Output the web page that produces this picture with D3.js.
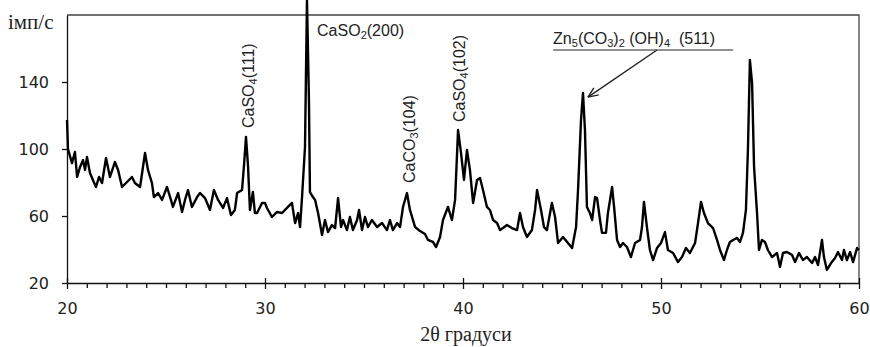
<!DOCTYPE html>
<html>
<head>
<meta charset="utf-8">
<script src="https://cdn.jsdelivr.net/npm/d3@7"></script>
<style>
  body { margin: 0; background: #fff; }
  svg { display: block; }
  .axis text { font-family: "DejaVu Sans", Verdana, sans-serif; font-size: 16px; fill: #222; }
  .axis path, .axis line { stroke: #111; stroke-width: 1.3px; }
  .ann { font-family: "Liberation Sans", Arial, sans-serif; font-size: 16px; fill: #222; }
</style>
</head>
<body>
<svg width="870" height="347"></svg>
<script>
// 2θ (degrees) and intensity (imp/s)
var twoTheta = [20.00, 20.05, 20.25, 20.40, 20.51, 20.66, 20.81, 20.91, 21.01, 21.16, 21.31, 21.46, 21.62, 21.77, 21.97,
  22.17, 22.42, 22.58, 22.78, 23.03, 23.28, 23.43, 23.69, 23.94, 24.09, 24.29, 24.39, 24.60, 24.80, 25.05,
  25.25, 25.35, 25.61, 25.81, 25.96, 26.11, 26.31, 26.57, 26.72, 26.97, 27.22, 27.42, 27.63, 27.88, 28.08,
  28.28, 28.48, 28.59, 28.84, 28.94, 29.04, 29.14, 29.24, 29.39, 29.49, 29.60, 29.85, 30.00, 30.10, 30.35,
  30.61, 30.86, 31.16, 31.36, 31.52, 31.67, 31.77, 31.87, 32.02, 32.12, 32.22, 32.27, 32.42, 32.53, 32.68,
  32.88, 33.03, 33.18, 33.38, 33.54, 33.69, 33.84, 33.94, 34.14, 34.29, 34.44, 34.65, 34.75, 34.90, 35.05,
  35.20, 35.40, 35.66, 35.91, 36.16, 36.31, 36.46, 36.67, 36.82, 36.97, 37.17, 37.32, 37.58, 37.83, 38.08,
  38.23, 38.48, 38.64, 38.84, 38.99, 39.24, 39.44, 39.60, 39.75, 39.90, 40.05, 40.20, 40.35, 40.51, 40.71,
  40.86, 41.01, 41.21, 41.36, 41.52, 41.72, 41.87, 42.02, 42.22, 42.47, 42.73, 42.88, 43.03, 43.23, 43.48,
  43.64, 43.74, 43.94, 44.09, 44.24, 44.49, 44.65, 44.80, 45.05, 45.30, 45.51, 45.71, 45.81, 45.96, 46.06,
  46.16, 46.26, 46.41, 46.52, 46.67, 46.77, 46.92, 47.02, 47.22, 47.32, 47.53, 47.63, 47.78, 47.93, 48.08,
  48.28, 48.48, 48.69, 48.94, 49.04, 49.14, 49.29, 49.44, 49.60, 49.80, 50.00, 50.20, 50.35, 50.61, 50.86,
  51.06, 51.26, 51.46, 51.72, 51.87, 52.02, 52.17, 52.37, 52.63, 52.83, 52.98, 53.18, 53.33, 53.48, 53.64,
  53.84, 53.99, 54.14, 54.29, 54.39, 54.49, 54.60, 54.70, 54.85, 54.95, 55.10, 55.25, 55.40, 55.61, 55.86,
  56.01, 56.16, 56.36, 56.62, 56.77, 56.97, 57.17, 57.37, 57.63, 57.78, 57.93, 58.13, 58.23, 58.38, 58.59,
  58.79, 58.94, 59.14, 59.24, 59.39, 59.55, 59.70, 59.90, 60.00];

var intensity = [117.3, 100.0, 91.6, 98.2, 83.3, 89.3, 93.4, 87.5, 95.2, 85.7, 81.5, 77.3, 83.3, 79.7, 94.6,
  83.3, 92.2, 87.5, 77.3, 80.3, 83.3, 79.7, 77.3, 97.6, 87.5, 79.7, 71.3, 73.7, 69.6, 77.3,
  69.6, 65.4, 73.7, 62.4, 69.6, 75.5, 65.4, 71.3, 73.7, 70.7, 63.6, 75.5, 69.6, 64.8, 70.7,
  60.6, 63.6, 73.7, 75.5, 90.4, 107.2, 90.4, 63.6, 74.3, 61.8, 61.8, 67.8, 67.8, 64.8, 59.4,
  62.4, 61.8, 65.4, 67.8, 55.8, 61.8, 53.4, 71.3, 101.2, 189.0, 129.0, 74.3, 71.3, 69.6, 61.8,
  48.7, 57.6, 50.4, 54.6, 52.8, 70.7, 53.4, 57.6, 51.6, 59.4, 51.6, 57.6, 63.6, 51.6, 59.4,
  53.4, 57.6, 53.4, 55.8, 51.6, 57.6, 51.6, 55.8, 53.4, 65.4, 73.7, 63.6, 53.4, 51.0, 49.3,
  45.7, 44.5, 41.5, 47.5, 57.6, 65.4, 57.6, 69.6, 111.3, 97.6, 81.5, 99.4, 87.5, 67.8, 81.5,
  82.7, 75.5, 65.4, 63.6, 57.6, 55.8, 51.6, 52.8, 54.6, 52.8, 51.6, 61.8, 53.4, 47.5, 51.6,
  63.6, 75.5, 63.6, 53.4, 51.6, 67.8, 59.4, 43.9, 47.5, 43.9, 40.9, 53.4, 75.5, 117.3, 133.4,
  111.3, 65.4, 61.8, 57.6, 71.3, 70.7, 57.6, 49.9, 49.9, 61.8, 77.3, 65.4, 45.7, 41.5, 43.9,
  41.5, 35.5, 43.9, 45.7, 53.4, 68.4, 53.4, 39.7, 33.7, 40.9, 43.9, 50.4, 39.7, 37.9, 32.5,
  35.5, 40.9, 37.9, 43.9, 55.8, 68.4, 61.8, 55.8, 52.8, 45.7, 39.7, 33.7, 39.7, 44.5, 45.7,
  46.9, 44.5, 49.9, 63.6, 99.4, 153.1, 139.4, 89.3, 61.8, 39.7, 45.7, 44.5, 39.7, 35.5, 37.9,
  29.6, 37.9, 38.5, 36.7, 32.5, 37.9, 33.7, 35.5, 31.9, 35.5, 30.7, 45.7, 35.5, 27.8, 31.9,
  34.9, 38.5, 33.7, 39.7, 33.7, 38.5, 32.5, 40.9, 39.7];

var xTicks = [20, 30, 40, 50, 60];
var yTicks = [20, 60, 100, 140];

// peak labels: [text, isSubscript], anchored in data units
var peakLabels = [
  { parts: [["CaSO", 0], ["4", 1], ["(111)", 0]], x: 29.19, y: 112.5, rotate: true },
  { parts: [["CaSO", 0], ["2", 1], ["(200)", 0]], x: 32.63, y: 167.5, rotate: false },
  { parts: [["CaCO", 0], ["3", 1], ["(104)", 0]], x: 37.32, y: 79.7, rotate: true },
  { parts: [["CaSO", 0], ["4", 1], ["(102)", 0]], x: 39.80, y: 116.1, rotate: true },
  { parts: [["Zn", 0], ["5", 1], ["(CO", 0], ["3", 1], [")", 0], ["2", 1], [" (OH)", 0], ["4", 1], ["\u00a0\u00a0(511)", 0]], x: 44.55, y: 162.7, rotate: false }
];

var svg = d3.select("svg"),
    margin = {top: 15, right: 11, bottom: 64, left: 67},
    width = +svg.attr("width") - margin.left - margin.right,
    height = +svg.attr("height") - margin.top - margin.bottom;

var x = d3.scaleLinear().domain([20, 60]).range([0, width]),
    y = d3.scaleLinear().domain([20, 180]).range([height, 0]);

var g = svg.append("g")
    .attr("transform", "translate(" + margin.left + "," + margin.top + ")");

// frame top + right
g.append("path")
    .attr("d", "M0,0H" + width + "V" + height)
    .attr("fill", "none")
    .attr("stroke", "#444")
    .attr("stroke-width", 1.3);

// minor x ticks
g.append("g")
    .attr("class", "axis")
    .attr("transform", "translate(0," + height + ")")
    .call(d3.axisBottom(x).tickValues(d3.range(21, 60).filter(function(d) { return d % 10; }))
      .tickSize(5).tickFormat(""))
    .select(".domain").remove();

var xa = g.append("g")
    .attr("class", "axis")
    .attr("transform", "translate(0," + height + ")")
    .call(d3.axisBottom(x).tickValues(xTicks).tickSize(6).tickPadding(14).tickSizeOuter(0));
xa.selectAll(".tick line").attr("y1", -5);

g.append("g")
    .attr("class", "axis")
    .call(d3.axisLeft(y).tickValues(yTicks).tickSize(5).tickPadding(13).tickSizeOuter(0));

// diffractogram
var line = d3.line()
    .x(function(d, i) { return x(twoTheta[i]); })
    .y(function(d) { return y(d); });

g.append("path")
    .datum(intensity)
    .attr("fill", "none")
    .attr("stroke", "#000")
    .attr("stroke-width", 2.4)
    .attr("stroke-linejoin", "round")
    .attr("d", line);

// axis titles
svg.append("text")
    .attr("x", 8).attr("y", 29)
    .attr("font-family", "'Liberation Serif', 'Times New Roman', serif")
    .attr("font-size", 21)
    .attr("fill", "#222")
    .text("імп/с");

svg.append("text")
    .attr("x", margin.left + width / 2 + 3).attr("y", 341)
    .attr("text-anchor", "middle")
    .attr("font-family", "'Liberation Serif', 'Times New Roman', serif")
    .attr("font-size", 20)
    .attr("fill", "#222")
    .text("2θ градуси");

// peak labels
peakLabels.forEach(function(p) {
  var t = g.append("text").attr("class", "ann");
  if (p.rotate) {
    t.attr("transform", "translate(" + (x(p.x) + 5.5) + "," + y(p.y) + ") rotate(-90)");
  } else {
    t.attr("x", x(p.x)).attr("y", y(p.y));
  }
  var prevSub = false;
  p.parts.forEach(function(s) {
    var ts = t.append("tspan").text(s[0]);
    if (s[1]) ts.attr("font-size", 11);
    ts.attr("dy", s[1] ? (prevSub ? 0 : 3) : (prevSub ? -3 : 0));
    prevSub = !!s[1];
  });
});

// underline + arrow for Zn label
g.append("line")
    .attr("x1", x(44.55)).attr("x2", x(53.64))
    .attr("y1", y(159.1)).attr("y2", y(159.1))
    .attr("stroke", "#222").attr("stroke-width", 1.2);

var ax0 = x(49.80), ay0 = y(159.1), ax1 = x(46.31), ay1 = y(131.0);
g.append("line")
    .attr("x1", ax0).attr("y1", ay0).attr("x2", ax1).attr("y2", ay1)
    .attr("stroke", "#222").attr("stroke-width", 1.4);
var ang = Math.atan2(ay0 - ay1, ax0 - ax1);
[0.4, -0.4].forEach(function(da) {
  g.append("line")
      .attr("x1", ax1).attr("y1", ay1)
      .attr("x2", ax1 + 11 * Math.cos(ang + da))
      .attr("y2", ay1 + 11 * Math.sin(ang + da))
      .attr("stroke", "#222").attr("stroke-width", 1.4);
});
</script>
</body>
</html>
